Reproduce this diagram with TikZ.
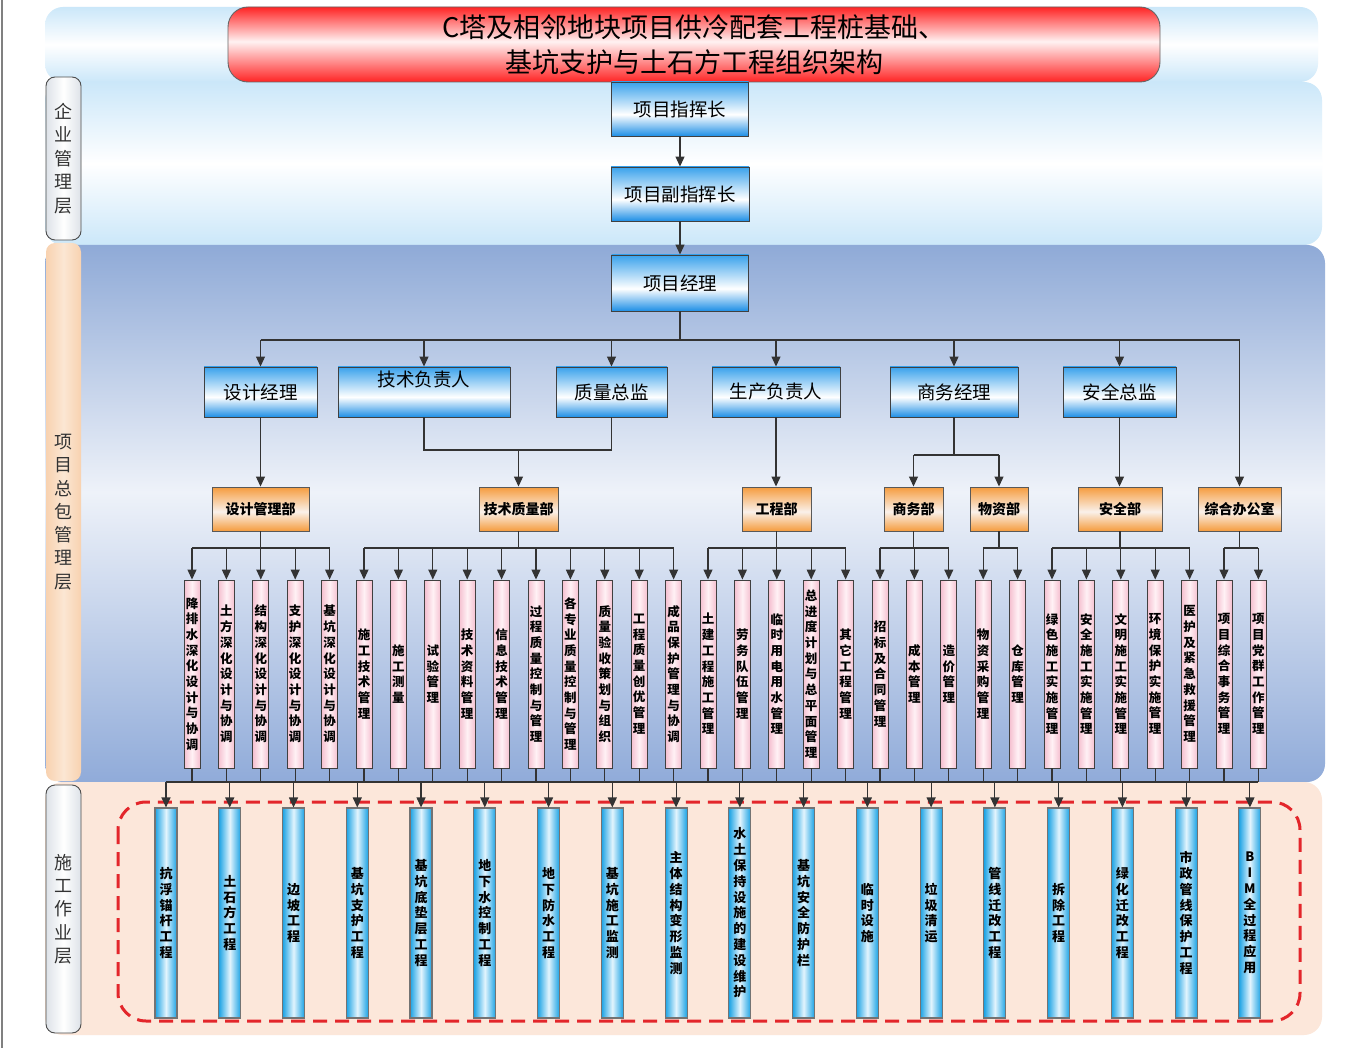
\documentclass[tikz,border=0pt]{standalone}
\usepackage{fontspec}
\setmainfont{Noto Sans CJK SC}
\usetikzlibrary{arrows.meta}
\definecolor{mbluet}{HTML}{3AA2EC}
\definecolor{mblueb}{HTML}{1E8FE6}
\definecolor{band1}{HTML}{CBE7F9}
\definecolor{band3t}{HTML}{8FAAD7}
\definecolor{band3b}{HTML}{90ABD9}
\definecolor{band3m}{HTML}{EEF2F9}
\definecolor{band4}{HTML}{FCE7DA}
\definecolor{lblgray}{HTML}{DDE2E8}
\definecolor{lblpeach}{HTML}{F8D2B0}
\definecolor{redt}{HTML}{FF2424}
\definecolor{redm}{HTML}{FFF2F2}
\definecolor{orng}{HTML}{F59C3E}
\definecolor{orngm}{HTML}{FAF1EA}
\definecolor{pinkc}{HTML}{F5C0D0}
\definecolor{pinkm}{HTML}{FFF1F5}
\definecolor{bluec}{HTML}{1AA2E4}
\definecolor{bluem}{HTML}{E2F4FD}
\definecolor{dashred}{HTML}{E3262B}
\definecolor{lnc}{HTML}{333333}
\pgfdeclareverticalshading{mgrsh}{100bp}{color(0bp)=(mblueb); color(25bp)=(mblueb); color(45bp)=(white); color(75bp)=(mbluet); color(100bp)=(mbluet)}
\pgfdeclareverticalshading{orsh}{100bp}{color(0bp)=(orng); color(25bp)=(orng); color(47bp)=(orngm); color(75bp)=(orng); color(100bp)=(orng)}
\pgfdeclareverticalshading{redsh}{100bp}{color(0bp)=(redt); color(25bp)=(redt); color(52bp)=(redm); color(75bp)=(redt); color(100bp)=(redt)}
\pgfdeclareverticalshading{bandsh}{100bp}{color(0bp)=(band1); color(25bp)=(band1); color(50bp)=(white); color(75bp)=(band1); color(100bp)=(band1)}
\pgfdeclareverticalshading{band3sh}{100bp}{color(0bp)=(band3b); color(25bp)=(band3b); color(52bp)=(band3m); color(75bp)=(band3t); color(100bp)=(band3t)}
\makeatletter
\newcommand\vst[2][15.7pt]{%
  \edef\vst@list{#2}%
  \vbox{\baselineskip=#1\relax\lineskiplimit=-\maxdimen
    \expandafter\@tfor\expandafter\vst@c\expandafter:\expandafter=\vst@list\do{\hbox to 1.1em{\hss\vst@c\hss}}}}
\makeatother
\begin{document}
\begin{tikzpicture}[x=1pt,y=-1pt,
  conn/.style={draw=lnc,line width=1.1pt},
  arr/.style={conn,-{Triangle[width=9pt,length=10pt]}},
  mgr/.style={draw=black!75,line width=0.9pt,shade,shading=mgrsh,inner sep=0pt,minimum height=50pt,font=\fontsize{18.5}{20}\selectfont},
  dept/.style={draw=black!65,line width=0.9pt,shade,shading=orsh,inner sep=0pt,minimum height=44pt,font=\bfseries\fontsize{14}{16}\selectfont},
  pk/.style={draw=black!75,line width=0.9pt,left color=pinkc,right color=pinkc,middle color=pinkm,inner sep=0pt,minimum width=16pt,minimum height=188pt,font=\bfseries\fontsize{12.5}{14}\selectfont},
  bl/.style={draw=black!55,line width=1.1pt,left color=bluec,right color=bluec,middle color=bluem,inner sep=0pt,minimum width=22pt,minimum height=210pt,font=\bfseries\fontsize{13}{14}\selectfont},
  lbl/.style={draw=black!70,line width=0.9pt,rounded corners=9pt,inner sep=0pt,minimum width=35pt,font=\fontsize{18}{20}\selectfont,text=black!80},
  band/.style={rounded corners=18pt},
]
\useasboundingbox (0,0) rectangle (1358,1048);
\fill[white] (0,0) rectangle (1358,1048);
\draw[black!50,line width=2pt] (2,0) -- (2,1048);
% bands
\shade[band,shading=bandsh] (45,7) rectangle (1318,82);
\shade[band,shading=bandsh] (45,82) rectangle (1322,245);
\shade[band,shading=band3sh] (45,245) rectangle (1325,782);
\fill[band,band4] (45,782) rectangle (1322,1035);
% layer labels
\node[lbl,left color=lblgray,right color=lblgray,middle color=white,minimum height=163pt] (L1) at (63.5,158.5) {\vst[23.5pt]{企业管理层}};
\node[lbl,draw=none,left color=lblpeach,right color=lblpeach,middle color=lblpeach!55!white,minimum height=538pt] (L2) at (63.5,512) {\vst[23.3pt]{项目总包管理层}};
\node[lbl,left color=lblgray,right color=lblgray,middle color=white,minimum height=248pt] (L3) at (63.5,909) {\vst[23.3pt]{施工作业层}};
% title
\node[draw=black!60,line width=0.9pt,shade,shading=redsh,rounded corners=20pt,minimum width=932pt,minimum height=75pt,inner sep=0pt,align=center,font=\fontsize{27}{35}\selectfont] (T) at (694,44.5) {C塔及相邻地块项目供冷配套工程桩基础、\\基坑支护与土石方工程组织架构};
% top chain
\node[mgr,minimum width=137pt,minimum height=54pt] (cmd) at (680,109) {项目指挥长};
\node[mgr,minimum width=138pt,minimum height=54pt] (dcmd) at (680,194) {项目副指挥长};
\node[mgr,minimum width=137pt,minimum height=56pt] (pm) at (680,283) {项目经理};
% managers
\node[mgr,minimum width=113pt] (m1) at (260.5,392) {设计经理};
\node[mgr,minimum width=172pt] (m2) at (424,392) {\raisebox{26pt}{技术负责人}};
\node[mgr,minimum width=111pt] (m3) at (611.5,392) {质量总监};
\node[mgr,minimum width=128pt] (m4) at (776,392) {生产负责人};
\node[mgr,minimum width=128pt] (m5) at (954,392) {商务经理};
\node[mgr,minimum width=113pt] (m6) at (1119.5,392) {安全总监};
% departments
\node[dept,minimum width=97pt] (d1) at (260.5,509) {设计管理部};
\node[dept,minimum width=79pt] (d2) at (518.5,509) {技术质量部};
\node[dept,minimum width=69pt] (d3) at (776.5,509) {工程部};
\node[dept,minimum width=59pt] (d4) at (913.5,509) {商务部};
\node[dept,minimum width=58pt] (d5) at (999,509) {物资部};
\node[dept,minimum width=84pt] (d6) at (1120,509) {安全部};
\node[dept,minimum width=83pt] (zb) at (1239.5,509) {综合办公室};
% pink duties
\foreach \tx [count=\i] in {降排水深化设计与协调,土方深化设计与协调,结构深化设计与协调,支护深化设计与协调,基坑深化设计与协调,施工技术管理,施工测量,试验管理,技术资料管理,信息技术管理,过程质量控制与管理,各专业质量控制与管理,质量验收策划与组织,工程质量创优管理,成品保护管理与协调,土建工程施工管理,劳务队伍管理,临时用电用水管理,总进度计划与总平面管理,其它工程管理,招标及合同管理,成本管理,造价管理,物资采购管理,仓库管理,绿色施工实施管理,安全施工实施管理,文明施工实施管理,环境保护实施管理,医护及紧急救援管理,项目综合事务管理,项目党群工作管理}
  \node[pk] (p\i) at ({192+34.4*(\i-1)},674) {\vst{\tx}};
% work layer
\draw[dashred,line width=3pt,dash pattern=on 14pt off 8pt,rounded corners=28pt] (118,802) rectangle (1300,1021);
\foreach \tx [count=\j] in {抗浮锚杆工程,土石方工程,边坡工程,基坑支护工程,基坑底垫层工程,地下水控制工程,地下防水工程,基坑施工监测,主体结构变形监测,水土保持设施的建设维护,基坑安全防护栏,临时设施,垃圾清运,管线迁改工程,拆除工程,绿化迁改工程,市政管线保护工程,BIM全过程应用}
  \node[bl] (q\j) at ({166+63.76*(\j-1)},913) {\vst[15.8pt]{\tx}};
% connectors
\coordinate (mbus) at (0,340);
\coordinate (tbus) at (0,450);
\coordinate (sbus) at (0,455);
\coordinate (pbus) at (0,548);
\coordinate (bbus) at (0,782);
\draw[arr] (cmd) -- (dcmd);
\draw[arr] (dcmd) -- (pm);
\draw[conn] (pm.south) -- (pm.south |- mbus);
\draw[conn] (m1.north |- mbus) -- (zb.north |- mbus);
\foreach \n in {m1,m2,m3,m4,m5,m6,zb} \draw[arr] (\n.north |- mbus) -- (\n.north);
\draw[arr] (m1.south) -- (m1.south |- d1.north);
\draw[conn] (m2.south) |- (m3.south |- tbus) -- (m3.south);
\draw[arr] (d2.north |- tbus) -- (d2.north);
\draw[arr] (m4.south) -- (m4.south |- d3.north);
\draw[conn] (m5.south) -- (m5.south |- sbus);
\draw[conn] (d4.north |- sbus) -- (d5.north |- sbus);
\draw[arr] (d4.north |- sbus) -- (d4.north);
\draw[arr] (d5.north |- sbus) -- (d5.north);
\draw[arr] (m6.south) -- (m6.south |- d6.north);
\foreach \d/\a/\b in {d1/1/5,d2/6/15,d3/16/20,d4/21/23,d5/24/25,d6/26/30,zb/31/32}{
  \draw[conn] (\d.south) -- (\d.south |- pbus);
  \draw[conn] (p\a.north |- pbus) -- (p\b.north |- pbus);
  \foreach \k in {\a,...,\b}{\draw[arr] (p\k.north |- pbus) -- (p\k.north);}
}
\foreach \i in {1,...,32} \draw[conn] (p\i.south) -- (p\i.south |- bbus);
\draw[conn] (q1.north |- bbus) -- (p32.south |- bbus);
\foreach \j in {1,...,18} \draw[arr] (q\j.north |- bbus) -- (q\j.north);
\end{tikzpicture}
\end{document}
